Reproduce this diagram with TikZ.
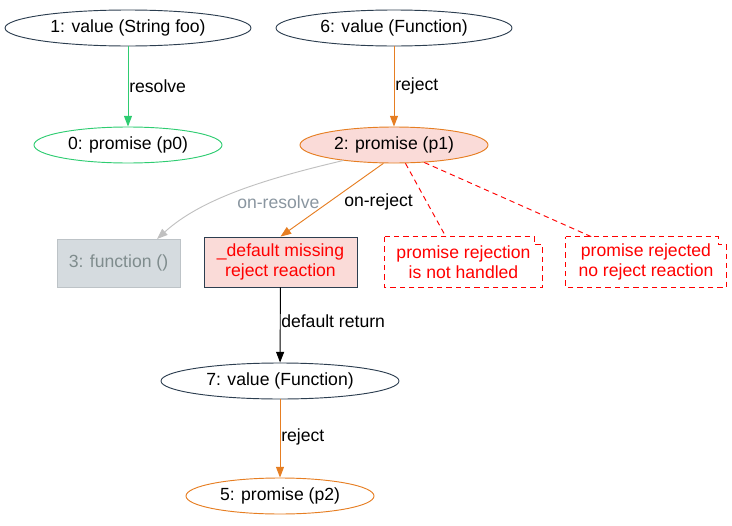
\documentclass[tikz,border=0pt]{standalone}
\usepackage{fontspec}
\setmainfont{Liberation Sans}
\usetikzlibrary{shapes.geometric,arrows.meta,calc}
\definecolor{dark}{HTML}{2C3E50}
\definecolor{grn}{HTML}{2ECC71}
\definecolor{org}{HTML}{E67E22}
\definecolor{pinkf}{HTML}{FADBD8}
\definecolor{grayf}{HTML}{D5DBDF}
\definecolor{grayb}{HTML}{BDC3C7}
\definecolor{grayt}{HTML}{7F8C8D}
\definecolor{graye}{HTML}{C0C0C0}
\definecolor{labgray}{HTML}{8A96A0}
\tikzset{
  every node/.style={font=\fontsize{13.2}{15}\selectfont, inner sep=0pt, align=center},
  ell/.style={ellipse, draw=dark, line width=0.7pt, minimum height=36*0.75pt},
  boxn/.style={rectangle, minimum width=123*0.75pt, minimum height=48*0.75pt},
  notebox/.style={rectangle, text=red, minimum height=50*0.75pt},
  arr/.style={-{Triangle[length=8pt,width=6pt]}, line width=0.7pt},
  notel/.style={red, dash pattern=on 4pt off 3pt, line width=0.7pt},
  lab/.style={anchor=west}
}
\begin{document}
\begin{tikzpicture}[x=0.75pt,y=-0.75pt]
\useasboundingbox (0,0) rectangle (732,525);
% nodes
\node[ell, minimum width=246*0.75pt] (n1) at (128,28) {1: value (String foo)};
\node[ell, minimum width=236*0.75pt] (n6) at (394,28) {6: value (Function)};
\node[ell, draw=grn, minimum width=188*0.75pt] (n0) at (128,145) {0: promise (p0)};
\node[ell, draw=org, fill=pinkf, minimum width=188*0.75pt] (n2) at (394,145) {2: promise (p1)};
\node[boxn, draw=grayb, fill=grayf, text=grayt, line width=0.7pt] (n3) at (118.5,263) {3: function ()};
\node[boxn, draw=dark, fill=pinkf, text=red, minimum width=153*0.75pt, minimum height=50*0.75pt, line width=0.7pt] (nd) at (280.5,262) {\_default missing\\reject reaction};
\node[notebox, minimum width=157*0.75pt] (m1) at (463.5,262) {promise rejection\\is not handled};
\node[notebox, minimum width=160*0.75pt] (m2) at (646,262) {promise rejected\\no reject reaction};
\node[ell, minimum width=238*0.75pt] (n7) at (280,381) {7: value (Function)};
\node[ell, draw=org, minimum width=188*0.75pt] (n5) at (280,496) {5: promise (p2)};
% note outlines
\foreach \m in {m1,m2}{
  \draw[notel] (\m.north west) -- ($(\m.north east)+(-8,0)$) -- ($(\m.north east)+(-8,8)$) -- ($(\m.north east)+(0,8)$) -- (\m.south east) -- (\m.south west) -- cycle;
}
% edges
\draw[arr, grn] (n1) -- (n0);
\node[lab] (l1) at (129,86) {resolve};
\draw[arr, org] (n6) -- (n2);
\node[lab] (l2) at (395,86) {reject};
\coordinate (e3) at (157,239);
\draw[arr, graye] (n2.197) .. controls (260,180) and (200,200) .. (e3);
\node[lab, text=labgray] (l3) at (237,202) {on-resolve};
\draw[arr, org] (n2.240) -- (nd.north);
\node[lab] (l4) at (344,202) {on-reject};
\coordinate (c1) at (446,237);
\coordinate (c2) at (592,237);
\draw[notel] (n2.302) -- (c1);
\draw[notel] (n2.330) -- (c2);
\draw[arr, black] (nd) -- (n7);
\node[lab] (l5) at (281,321) {default return};
\draw[arr, org] (n7) -- (n5);
\node[lab] (l6) at (281,437) {reject};
\end{tikzpicture}
\end{document}
